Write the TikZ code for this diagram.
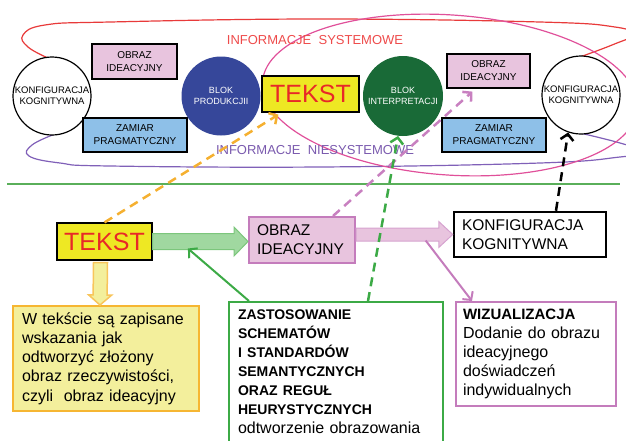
\documentclass[tikz,border=0pt]{standalone}
\usepackage{fontspec}
\setmainfont{Liberation Sans}
\usetikzlibrary{arrows.meta,calc}

\definecolor{sysred}{HTML}{EE4B4B}
\definecolor{loopred}{HTML}{E83A3A}
\definecolor{niepurple}{HTML}{7A5AAE}
\definecolor{looppurple}{HTML}{8060B8}
\definecolor{ellmagenta}{HTML}{E0509A}
\definecolor{obrazpink}{HTML}{E8C4DE}
\definecolor{obrazborder}{HTML}{C47CBC}
\definecolor{zamiarblue}{HTML}{8EC0E8}
\definecolor{blokblue}{HTML}{36479A}
\definecolor{blokgreen}{HTML}{196A37}
\definecolor{tekstyellow}{HTML}{EEE823}
\definecolor{tekstred}{HTML}{E82828}
\definecolor{sepgreen}{HTML}{5AAF5A}
\definecolor{zastgreen}{HTML}{3CAA46}
\definecolor{opisyellow}{HTML}{F3EF9C}
\definecolor{opisorange}{HTML}{F6B632}
\definecolor{dashorange}{HTML}{F5B030}
\definecolor{dashpink}{HTML}{C880C0}
\definecolor{wizborder}{HTML}{C47CBC}
\definecolor{blockgreen}{HTML}{A0D8A0}
\definecolor{blockgreenline}{HTML}{7CC67C}

% block arrow: style, from, to, shaft half width, head half width, head length
\newcommand{\blockarrow}[6]{%
  \coordinate (ba-h) at ($(#3)!#6!(#2)$);
  \draw[#1] ($(#2)!#4!90:(#3)$) -- ($(ba-h)!#4!-90:(#2)$) -- ($(ba-h)!#5!-90:(#2)$)
    -- (#3) -- ($(ba-h)!#5!90:(#2)$) -- ($(ba-h)!#4!90:(#2)$) -- ($(#2)!#4!-90:(#3)$) -- cycle;
}

\begin{document}
\begin{tikzpicture}[x=1pt,y=-1pt,
  every node/.style={font=\fontsize{10}{13}\selectfont},
  kogcirc/.style={draw,circle,fill=white,line width=1.2pt,minimum size=78pt,inner sep=0pt,align=center,font=\fontsize{9.5}{11}\selectfont},
  blokcirc/.style={circle,minimum size=79pt,inner sep=0pt,align=center,text=white,font=\fontsize{9}{11}\selectfont},
  smallbox/.style={draw,line width=1.2pt,inner sep=0pt,align=center},
  tekstbox/.style={draw,line width=1.2pt,fill=tekstyellow,text=tekstred,inner sep=0pt,font=\fontsize{25}{25}\selectfont},
  bigbox/.style={line width=2pt,align=left,inner xsep=8pt,font=\fontsize{15.5}{19}\selectfont},
  dashedarrow/.style={line width=2.5pt,dash pattern=on 9pt off 6pt,-{Straight Barb[length=6pt,width=13pt]}},
  thinarrow/.style={line width=2pt,-{Straight Barb[length=6pt,width=13pt]}},
  grblock/.style={draw=blockgreenline,fill=blockgreen,line width=1pt},
  pkblock/.style={draw=obrazborder!70,fill=obrazpink,line width=1pt},
  yeblock/.style={draw=opisorange!80,fill=opisyellow,line width=1.5pt}]
\useasboundingbox (0,0) rectangle (626,440);

\draw[loopred,line width=1.2pt] plot[smooth,tension=0.7] coordinates {(48,58) (28,47) (23,35) (45,25) (110,22) (320,19) (540,22) (615,27) (632,35) (612,45) (577,58)};
\draw[looppurple,line width=1.2pt] plot[smooth,tension=0.7] coordinates {(55,134) (32,145) (29,156) (60,163) (110,166) (320,167) (540,163) (620,157) (645,152) (620,143) (580,133)};
\draw[ellmagenta,line width=1.2pt] (450,95) ellipse [x radius=188, y radius=80, rotate=-4];

\node[text=sysred,font=\fontsize{13}{13}\selectfont] (infS) at (315,40) {INFORMACJE\ \ SYSTEMOWE};
\node[text=niepurple,font=\fontsize{13}{13}\selectfont] (infN) at (315,150) {INFORMACJE\ \ NIESYSTEMOWE};

\node[kogcirc] (kogL) at (52,96) {KONFIGURACJA\\KOGNITYWNA};
\node[smallbox,fill=obrazpink,minimum width=85pt,minimum height=35pt] (obrazL) at (134.5,61.5) {OBRAZ\\IDEACYJNY};
\node[smallbox,fill=zamiarblue,minimum width=104pt,minimum height=34pt] (zamiarL) at (135,135) {ZAMIAR\\PRAGMATYCZNY};
\node[blokcirc,fill=blokblue] (blokP) at (221,96) {BLOK\\PRODUKCJII};
\node[tekstbox,minimum width=97pt,minimum height=36pt] (tekstT) at (310.5,94) {TEKST};
\node[blokcirc,fill=blokgreen,minimum size=80pt] (blokI) at (403,96) {BLOK\\INTERPRETACJI};
\node[smallbox,fill=obrazpink,minimum width=83pt,minimum height=34pt] (obrazR) at (488.5,71) {OBRAZ\\IDEACYJNY};
\node[smallbox,fill=zamiarblue,minimum width=104pt,minimum height=34pt] (zamiarR) at (494,135) {ZAMIAR\\PRAGMATYCZNY};
\node[kogcirc] (kogR) at (581,95) {KONFIGURACJA\\KOGNITYWNA};

\draw[sepgreen,line width=1.5pt] (7,184) -- (620,184);

\node[tekstbox,minimum width=95pt,minimum height=37pt] (tekstB) at (104.5,241.5) {TEKST};
\node[bigbox,draw=obrazborder,fill=obrazpink,text width=90pt,minimum height=46pt] (obrazB) at (302,240) {OBRAZ\\IDEACYJNY};
\node[bigbox,draw=black,line width=2.5pt,fill=white,text width=136pt,minimum height=45pt] (konfB) at (530,234.5) {KONFIGURACJA\\KOGNITYWNA};
\node[bigbox,draw=opisorange,fill=opisyellow,text width=168pt,inner xsep=9pt,minimum height=105pt,font=\fontsize{16}{19.2}\selectfont] (opisY) at (106,358.5) {W tekście są zapisane\\wskazania jak\\odtworzyć złożony\\obraz rzeczywistości,\\czyli\ \ obraz ideacyjny};
\node[bigbox,draw=zastgreen,fill=white,text width=196pt,inner xsep=9pt,inner ysep=8pt,anchor=north,font=\fontsize{16}{19}\selectfont] (zastos) at (336,301) {{\bfseries\fontsize{14}{19}\selectfont ZASTOSOWANIE\\SCHEMATÓW\\I STANDARDÓW\\SEMANTYCZNYCH\\ORAZ REGUŁ\\HEURYSTYCZNYCH}\\odtworzenie obrazowania};
\node[bigbox,draw=wizborder,fill=white,text width=146pt,inner xsep=7pt,minimum height=104pt,font=\fontsize{16}{19}\selectfont] (wizual) at (536,354) {{\bfseries\fontsize{15}{19}\selectfont WIZUALIZACJA}\\Dodanie do obrazu\\ideacyjnego\\doświadczeń\\indywidualnych};

\coordinate (g1) at (tekstB.east);
\coordinate (g2) at (obrazB.west |- tekstB.east);
\blockarrow{grblock}{g1}{g2}{8pt}{14.5pt}{14pt}
\coordinate (p1) at (obrazB.east |- konfB.west);
\blockarrow{pkblock}{p1}{konfB.west}{6.5pt}{13pt}{14pt}
\coordinate (y1) at ($(tekstB.south)+(-4,2)$);
\coordinate (y2) at ($(opisY.north)+(-6,0)$);
\blockarrow{yeblock}{y1}{y2}{7pt}{11.5pt}{10pt}

\coordinate (gtip) at ($(g1)!0.37!(g2)+(0,7)$);
\coordinate (gstart) at ($(zastos.north west)+(21,0)$);
\draw[thinarrow,zastgreen] (gstart) -- (gtip);
\coordinate (pstart) at ($(p1)!0.72!(konfB.west)+(0,6)$);
\coordinate (ptip) at ($(wizual.north west)+(17,0)$);
\draw[thinarrow,obrazborder] (pstart) -- (ptip);

\coordinate (ostart) at (tekstB.north);
\coordinate (otip) at ($(tekstT.south west)+(17,2)$);
\draw[dashedarrow,dashorange] (ostart) -- (otip);
\coordinate (kstart) at ($(obrazB.north east)+(-23,0)$);
\coordinate (ktip) at ($(obrazR.south west)+(26,3)$);
\draw[dashedarrow,dashpink] (kstart) -- (ktip);
\coordinate (zstart) at ($(zastos.north)+(32,0)$);
\draw[dashedarrow,zastgreen] (zstart) -- (blokI.263);
\coordinate (bstart) at ($(konfB.north)+(26,0)$);
\draw[dashedarrow,black] (bstart) -- (kogR.251);
\end{tikzpicture}
\end{document}
